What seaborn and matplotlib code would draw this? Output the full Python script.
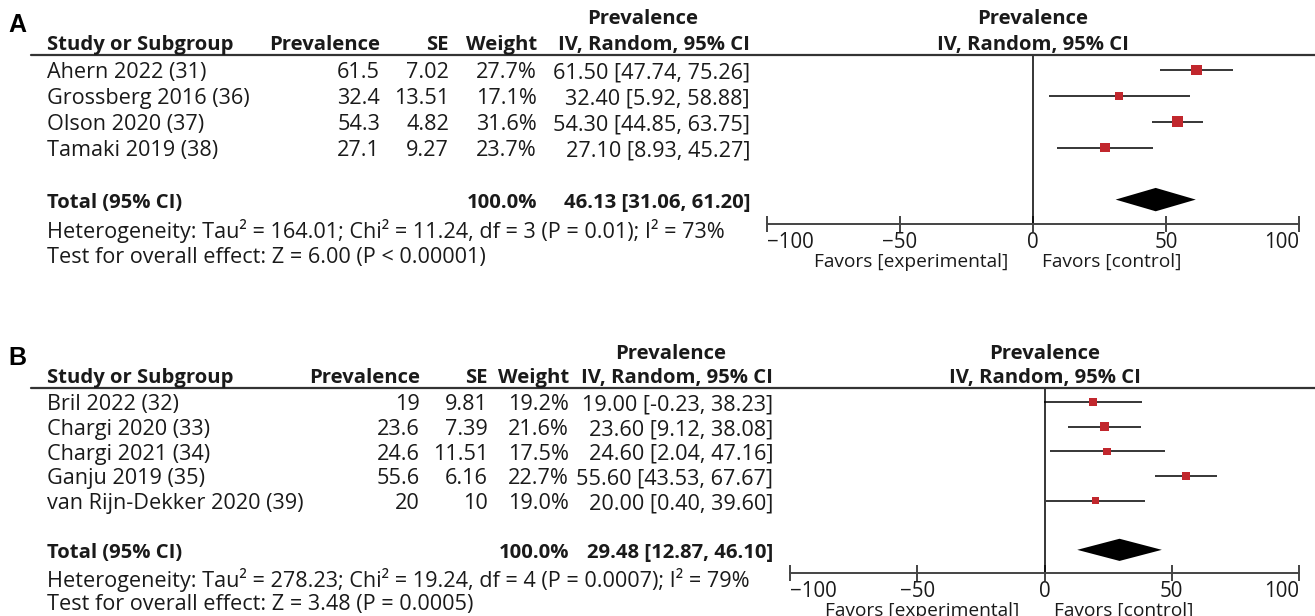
import numpy as np
import pandas as pd
import matplotlib
matplotlib.use('Agg')
import matplotlib.pyplot as plt
import matplotlib.transforms as mtransforms
import seaborn as sns

# Panel A data
studies_a = ['Ahern 2022 (31)', 'Grossberg 2016 (36)', 'Olson 2020 (37)', 'Tamaki 2019 (38)']
prev_a = [61.5, 32.4, 54.3, 27.1]
se_a = [7.02, 13.51, 4.82, 9.27]
weight_a = [27.7, 17.1, 31.6, 23.7]
lo_a = [47.74, 5.92, 44.85, 8.93]
hi_a = [75.26, 58.88, 63.75, 45.27]
total_a = [100.0, 46.13, 31.06, 61.20]  # weight, estimate, low, high
het_a = 'Heterogeneity: Tau² = 164.01; Chi² = 11.24, df = 3 (P = 0.01); I² = 73%'
test_a = 'Test for overall effect: Z = 6.00 (P < 0.00001)'

# Panel B data
studies_b = ['Bril 2022 (32)', 'Chargi 2020 (33)', 'Chargi 2021 (34)', 'Ganju 2019 (35)',
             'van Rijn-Dekker 2020 (39)']
prev_b = [19, 23.6, 24.6, 55.6, 20]
se_b = [9.81, 7.39, 11.51, 6.16, 10]
weight_b = [19.2, 21.6, 17.5, 22.7, 19.0]
lo_b = [-0.23, 9.12, 2.04, 43.53, 0.40]
hi_b = [38.23, 38.08, 47.16, 67.67, 39.60]
total_b = [100.0, 29.48, 12.87, 46.10]
het_b = 'Heterogeneity: Tau² = 278.23; Chi² = 19.24, df = 4 (P = 0.0007); I² = 79%'
test_b = 'Test for overall effect: Z = 3.48 (P = 0.0005)'

ticks = [-100, -50, 0, 50, 100]

sns.set_theme(style='white')
plt.rcParams['font.family'] = ['Open Sans', 'DejaVu Sans']
plt.rcParams['axes.unicode_minus'] = True

W, H = 1315, 616
fig = plt.figure(figsize=(W / 100, H / 100), dpi=100)
FS = 15.6      # table text
FS_B = 14.6    # bold headers / totals
FS_AX = 13.8   # favors labels
DY = 0.12      # text sits a little below the marks
TXT = '#1a1a1a'
RED = '#C1272D'


def fx(px):
    return px / W


def draw_panel(letter, letter_y, studies, prev, se, weight, lo, hi, total, het, test,
               ax_px, cols, prev_head_x, sizes):
    left, right, top, bottom = ax_px
    n = len(studies)
    tot_row = n + 1
    ax = fig.add_axes([fx(left), 1 - bottom / H, fx(right - left), (bottom - top) / H])
    ax.set_xlim(-100, 100)
    ax.set_ylim(tot_row + 0.94, -0.57)

    df = pd.DataFrame({'study': studies, 'prev': prev, 'weight': weight,
                       'lo': lo, 'hi': hi, 'row': np.arange(n)})
    ax.hlines(df['row'], df['lo'], df['hi'], color='black', lw=1.1, zorder=2)
    sns.scatterplot(data=df, x='prev', y='row', size='weight', sizes=sizes,
                    marker='s', color=RED, edgecolor='none', legend=False,
                    ax=ax, zorder=3)
    tw, est, clo, chi = total
    ax.fill([clo, est, chi, est], [tot_row, tot_row - 0.45, tot_row, tot_row + 0.45],
            color='black', lw=0, zorder=3)
    ax.axvline(0, color='black', lw=1.1, zorder=1)

    for s in ['top', 'right', 'left']:
        ax.spines[s].set_visible(False)
    ax.spines['bottom'].set_color('#444444')
    ax.spines['bottom'].set_linewidth(1.4)
    ax.set_yticks([])
    ax.set_xticks(ticks)
    ax.set_xlabel('')
    ax.set_ylabel('')
    ax.tick_params(axis='x', direction='inout', length=12, width=1.4, color='#444444',
                   labelsize=FS_AX + 1, labelcolor=TXT, pad=0, bottom=True)
    labs = ax.get_xticklabels()
    labs[0].set_horizontalalignment('left')
    labs[-1].set_horizontalalignment('right')

    # favors labels
    ax.annotate('Favors [experimental]', xy=(0, 0), xycoords=('data', 'axes fraction'),
                xytext=(-25, -38), textcoords='offset pixels', ha='right', va='center',
                fontsize=FS_AX, color=TXT)
    ax.annotate('Favors [control]', xy=(0, 0), xycoords=('data', 'axes fraction'),
                xytext=(9, -38), textcoords='offset pixels', ha='left', va='center',
                fontsize=FS_AX, color=TXT)

    # right header
    ax.text(0, -2.08 + DY, 'Prevalence', ha='center', va='center', fontsize=FS_B,
            fontweight='bold', color=TXT)
    ax.text(0, -1.09 + DY, 'IV, Random, 95% CI', ha='center', va='center', fontsize=FS_B,
            fontweight='bold', color=TXT)

    # table text, x in figure pixels, y in row units
    tr = mtransforms.blended_transform_factory(fig.transFigure, ax.transData)
    c_study, c_prev, c_se, c_w, c_ci = cols

    def t(x, y, s, ha='right', bold=False):
        fig.text(fx(x), y + DY, s, transform=tr, ha=ha, va='center',
                 fontsize=FS_B if bold else FS,
                 fontweight='bold' if bold else 'normal', color=TXT)

    t(prev_head_x, -2.08, 'Prevalence', ha='center', bold=True)
    t(c_study, -1.09, 'Study or Subgroup', ha='left', bold=True)
    t(c_prev, -1.09, 'Prevalence', bold=True)
    t(c_se, -1.09, 'SE', bold=True)
    t(c_w, -1.09, 'Weight', bold=True)
    t(c_ci, -1.09, 'IV, Random, 95% CI', bold=True)
    for i in range(n):
        t(c_study, i, studies[i], ha='left')
        t(c_prev, i, f'{prev[i]:g}')
        t(c_se, i, f'{se[i]:g}')
        t(c_w, i, f'{weight[i]:.1f}%')
        t(c_ci, i, f'{prev[i]:.2f} [{lo[i]:.2f}, {hi[i]:.2f}]')
    t(c_study, tot_row, 'Total (95% CI)', ha='left', bold=True)
    t(c_w, tot_row, f'{tw:.1f}%', bold=True)
    t(c_ci, tot_row, f'{est:.2f} [{clo:.2f}, {chi:.2f}]', bold=True)
    t(c_study, tot_row + 1.1, het, ha='left')
    t(c_study, tot_row + 2.1, test, ha='left')

    # header rule across the whole width
    fig.add_artist(plt.Line2D([fx(31), 1.0], [1 - top / H, 1 - top / H],
                              color='#333333', lw=1.6))

    fig.text(fx(17), 1 - letter_y / H, letter, ha='center', va='center', fontsize=18,
             fontweight='bold', family='Liberation Sans', color='black')
    return ax


draw_panel('A', 25, studies_a, prev_a, se_a, weight_a, lo_a, hi_a, total_a, het_a, test_a,
           (767, 1299, 55, 224), (47, 380, 449, 537, 750), 643, (30, 64))
draw_panel('B', 358, studies_b, prev_b, se_b, weight_b, lo_b, hi_b, total_b, het_b, test_b,
           (790, 1299, 388, 573), (47, 420, 488, 569, 773), 671, (28, 40))

fig.savefig('out.png', dpi=100, facecolor='white')
